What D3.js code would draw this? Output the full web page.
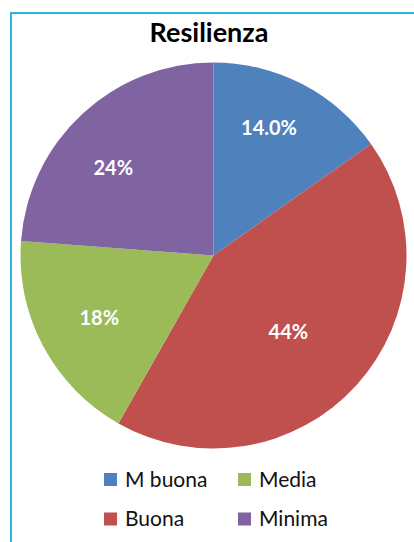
<!DOCTYPE html>
<html>
<head>
<meta charset="utf-8">
<script src="https://cdn.jsdelivr.net/npm/d3@7"></script>
<style>
  body { margin: 0; background: #fff; }
  text { font-family: Lato, "Open Sans", sans-serif; }
</style>
</head>
<body>
<script>
// slice data (labels as printed in the original)
var categories = ["M buona", "Buona", "Media", "Minima"];
var values = [15.2, 43.0, 18.0, 23.8];
var labels = ["14.0%", "44%", "18%", "24%"];
var colors = ["#4f81bd", "#c0504d", "#9bbb59", "#8064a2"];

var W = 414, H = 542;
var cx = 213.5, cy = 255.5, r = 193;
// label placement: angle nudge (deg) from slice middle, and distance as fraction of radius
var labelNudge = [-3.8, 3.5, -0.7, -6];
var labelDist = [0.72, 0.555, 0.675, 0.69];

var svg = d3.select("body")
  .append("svg")
    .attr("width", W)
    .attr("height", H);

// frame (only top and left edges show in the crop)
svg.append("path")
  .attr("d", "M11," + H + "V13H" + W)
  .attr("fill", "none")
  .attr("stroke", "#2bb6db")
  .attr("stroke-width", 2);

svg.append("text")
  .attr("x", 209)
  .attr("y", 42)
  .attr("text-anchor", "middle")
  .style("font-size", "27px")
  .style("font-weight", "bold")
  .attr("fill", "#000")
  .text("Resilienza");

var pie = d3.pie().sort(null).value(function(d) { return d; });
var arcs = pie(values);
var arc = d3.arc().innerRadius(0).outerRadius(r);

var g = svg.append("g")
  .attr("transform", "translate(" + cx + "," + cy + ")");

g.selectAll("path.slice")
    .data(arcs)
  .enter().append("path")
    .attr("class", "slice")
    .attr("d", arc)
    .attr("fill", function(d, i) { return colors[i]; });

g.selectAll("text.lbl")
    .data(arcs)
  .enter().append("text")
    .attr("class", "lbl")
    .attr("transform", function(d, i) {
      var a = (d.startAngle + d.endAngle) / 2 + labelNudge[i] * Math.PI / 180;
      var k = r * labelDist[i];
      return "translate(" + (Math.sin(a) * k) + "," + (-Math.cos(a) * k) + ")";
    })
    .attr("text-anchor", "middle")
    .attr("dy", "0.36em")
    .attr("fill", "#fff")
    .style("font-size", "20px")
    .style("font-weight", "bold")
    .text(function(d, i) { return labels[i]; });

// legend, two columns by two rows
var legend = svg.append("g");
var item = legend.selectAll("g")
    .data(categories)
  .enter().append("g")
    .attr("transform", function(d, i) {
      var col = Math.floor(i / 2), row = i % 2;
      return "translate(" + (104 + col * 134) + "," + (473 + row * 39.5) + ")";
    });

item.append("rect")
  .attr("width", 13)
  .attr("height", 13)
  .attr("fill", function(d, i) { return colors[i]; });

item.append("text")
  .attr("x", 21)
  .attr("y", 13.5)
  .style("font-size", "21px")
  .attr("fill", "#111")
  .text(function(d) { return d; });
</script>
</body>
</html>
